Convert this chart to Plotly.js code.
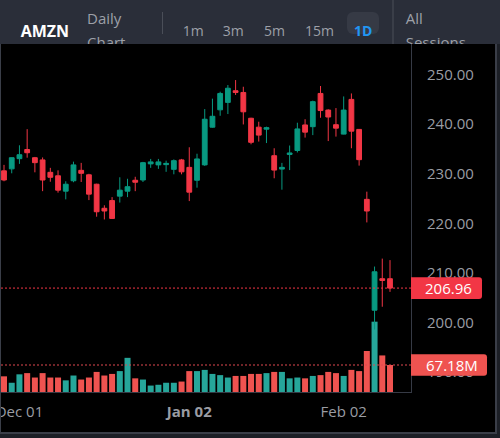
<!DOCTYPE html>
<html>
<head>
<meta charset="utf-8">
<script src="https://cdn.plot.ly/plotly-3.0.1.min.js"></script>
<style>
  html, body { margin:0; padding:0; width:500px; height:438px; overflow:hidden; background:#1c1f26; font-family:"Open Sans", sans-serif; }
  #bar { position:absolute; left:0; top:0; width:500px; height:44px; background:#2a2e39; overflow:hidden; }
  .t { position:absolute; white-space:nowrap; color:#9da0a8; }
  .iv { font-size:14px; line-height:14px; top:23.6px; }
  #frame { position:absolute; left:0; top:44px; width:497px; height:390px; box-sizing:border-box; background:#000;
           border-left:1px solid #3a3e48; border-right:2px solid #3a3e48; border-bottom:2px solid #3a3e48; }
  #chart { position:absolute; left:0; top:0; width:494px; height:388px; }
</style>
</head>
<body>
<div id="bar">
  <div class="t" style="left:20.7px;top:23.2px;font-size:16px;line-height:16px;font-weight:700;color:#fff;">AMZN</div>
  <div class="t" style="left:87px;top:7.1px;font-size:15px;line-height:23.5px;">Daily<br>Chart</div>
  <div style="position:absolute;left:162px;top:12px;width:1px;height:22px;background:#4a4e58;"></div>
  <div class="t iv" style="left:182.7px;">1m</div>
  <div class="t iv" style="left:222.7px;">3m</div>
  <div class="t iv" style="left:264px;">5m</div>
  <div class="t iv" style="left:305px;">15m</div>
  <div style="position:absolute;left:347px;top:11.7px;width:32px;height:22.6px;border-radius:6px;background:#363a45;"></div>
  <div class="t iv" style="left:354px;font-weight:700;color:#2196f3;">1D</div>
  <div style="position:absolute;left:392px;top:0;width:2px;height:44px;background:#3a3e48;"></div>
  <div class="t" style="left:405.7px;top:7.1px;font-size:15px;line-height:23.5px;">All<br>Sessions</div>
</div>
<div id="frame"><div id="chart"></div></div>
<script>
// Daily AMZN session data
const dates = [
  '2025-11-26','2025-11-28',
  '2025-12-01','2025-12-02','2025-12-03','2025-12-04','2025-12-05',
  '2025-12-08','2025-12-09','2025-12-10','2025-12-11','2025-12-12',
  '2025-12-15','2025-12-16','2025-12-17','2025-12-18','2025-12-19',
  '2025-12-22','2025-12-23','2025-12-24','2025-12-26',
  '2025-12-29','2025-12-30','2025-12-31','2026-01-02',
  '2026-01-05','2026-01-06','2026-01-07','2026-01-08','2026-01-09',
  '2026-01-12','2026-01-13','2026-01-14','2026-01-15','2026-01-16',
  '2026-01-20','2026-01-21','2026-01-22','2026-01-23',
  '2026-01-26','2026-01-27','2026-01-28','2026-01-29','2026-01-30',
  '2026-02-02','2026-02-03','2026-02-04','2026-02-05','2026-02-06',
  '2026-02-09','2026-02-10'
];
const open  = [230.6,231.0,233.05,234.9,233.25,232.8,230.3,229.6,226.5,228.6,
               230.7,229.8,227.9,223.05,224.6,225.5,226.5,228.7,228.75,232.0,
               231.8,231.85,230.9,232.8,231.3,228.7,231.8,239.4,242.9,244.4,
               246.75,246.4,241.2,239.4,239.0,233.65,230.95,233.9,234.7,239.85,
               239.5,246.2,242.85,239.9,238.0,245.0,238.95,224.85,202.5,208.85,208.85];
const high  = [231.8,233.3,235.75,239.0,233.4,233.3,231.2,230.7,228.5,232.45,
               232.2,230.0,228.0,223.65,225.3,229.3,229.0,229.4,232.4,233.0,
               233.0,232.65,232.9,233.0,235.35,234.05,243.05,245.15,246.55,247.9,
               248.9,247.55,241.3,240.5,239.5,235.15,232.2,235.7,240.3,241.0,
               244.75,247.7,243.0,243.25,245.6,246.2,239.0,226.4,211.3,212.9,212.6];
const low   = [228.5,230.1,232.0,233.25,230.3,226.5,228.4,226.2,224.85,228.3,
               228.35,224.7,221.35,220.8,220.9,224.2,225.3,226.5,228.35,231.2,
               231.0,230.4,229.9,229.9,224.5,227.2,231.6,239.3,241.7,242.05,
               245.9,239.95,235.95,236.5,236.2,229.1,226.8,230.75,234.3,237.3,
               237.8,241.3,236.6,237.5,237.95,235.15,231.65,220.2,198.6,203.2,206.2];
const close = [228.75,233.25,233.85,234.25,232.25,228.75,229.3,226.7,227.9,231.8,
               230.1,225.9,222.35,222.5,221.0,226.7,227.4,228.3,232.25,232.4,
               232.4,232.1,232.65,230.4,226.3,233.0,241.0,241.6,246.2,247.25,
               246.4,242.5,236.35,237.8,239.3,230.75,231.3,234.2,239.05,238.4,
               244.55,242.75,241.45,239.2,242.85,238.6,232.85,222.5,210.25,208.5,206.96];
// volume in millions of shares
const volume = [39,23,44,47,36,47,36,36,29,41,
                31,36,50,41,45,52,85,34,31,16,
                18,23,23,26,52,52,55,45,42,36,
                40,40,45,45,47,50,50,34,36,34,
                40,42,50,47,40,55,52,102,175,91,67.18];
const tickDates  = ['2025-12-01','2026-01-02','2026-02-02'];
const tickLabels = ['Dec 01','<b>Jan 02</b>','Feb 02'];

const lastPrice  = close[close.length - 1];
const lastVolume = volume[volume.length - 1];

const UP = '#089981', DOWN = '#f23645';
const VOL_UP = '#26a69a', VOL_DOWN = '#ef5350';
const volColors = close.map((c, i) => c >= open[i] ? VOL_UP : VOL_DOWN);

const volTrace = {
  type: 'bar', x: dates, y: volume, yaxis: 'y',
  marker: { color: volColors, line: { width: 0 } },
  hoverinfo: 'skip'
};
const candleTrace = {
  type: 'candlestick', x: dates, open: open, high: high, low: low, close: close,
  yaxis: 'y2', whiskerwidth: 0,
  increasing: { line: { color: UP, width: 1 }, fillcolor: UP },
  decreasing: { line: { color: DOWN, width: 1 }, fillcolor: DOWN },
  hoverinfo: 'skip'
};

// price tag shape, pixel sized, anchored at the right edge of the plot
function tag(w) {
  return 'M0,-10.8L' + (w - 3) + ',-10.8Q' + w + ',-10.8 ' + w + ',-7.8L' + w + ',7.8Q' + w + ',10.8 ' + (w - 3) + ',10.8L0,10.8Z';
}

const layout = {
  width: 494, height: 388,
  margin: { l: 0, r: 84, t: 0, b: 40 },
  paper_bgcolor: '#000', plot_bgcolor: '#000',
  showlegend: false, hovermode: false,
  boxgap: 0.38, boxgroupgap: 0, bargap: 0.22,
  font: { family: '"Open Sans", sans-serif', size: 15, color: '#9a9ca3' },
  xaxis: {
    type: 'category', range: [-0.389, 52.72],
    rangeslider: { visible: false },
    showgrid: false, zeroline: false,
    showline: true, linecolor: '#363a45', linewidth: 1,
    tickmode: 'array', tickvals: tickDates, ticktext: tickLabels,
    ticks: '', ticklabelstandoff: 6, ticklabeloverflow: 'allow',
    tickfont: { size: 15, color: '#9a9ca3' }
  },
  yaxis: { range: [0, 866], visible: false, showgrid: false, zeroline: false },
  yaxis2: {
    overlaying: 'y', side: 'right', range: [186.01, 256.17],
    showgrid: false, zeroline: false,
    showline: true, linecolor: '#363a45', linewidth: 1,
    tickmode: 'linear', tick0: 0, dtick: 10, tickformat: '.2f',
    ticks: '', ticklabelstandoff: 12,
    tickfont: { size: 15, color: '#9a9ca3' }
  },
  shapes: [
    { type: 'line', xref: 'paper', x0: 0, x1: 1, yref: 'y2', y0: lastPrice, y1: lastPrice,
      line: { color: DOWN, width: 1, dash: '2px,2px' }, layer: 'above' },
    { type: 'line', xref: 'paper', x0: 0, x1: 1, yref: 'y', y0: lastVolume, y1: lastVolume,
      line: { color: '#e04850', width: 1, dash: '2px,2px' }, layer: 'above' },
    { type: 'path', xref: 'paper', xsizemode: 'pixel', xanchor: 1,
      yref: 'y2', ysizemode: 'pixel', yanchor: lastPrice,
      path: tag(71), fillcolor: DOWN, line: { width: 0 }, layer: 'above' },
    { type: 'path', xref: 'paper', xsizemode: 'pixel', xanchor: 1,
      yref: 'y', ysizemode: 'pixel', yanchor: lastVolume,
      path: tag(76), fillcolor: VOL_DOWN, line: { width: 0 }, layer: 'above' }
  ],
  annotations: [
    { xref: 'paper', x: 1, xanchor: 'left', xshift: 14, yref: 'y2', y: lastPrice, yanchor: 'middle',
      text: lastPrice.toFixed(2), showarrow: false, borderpad: 0, borderwidth: 0,
      font: { color: '#ffffff', size: 15 } },
    { xref: 'paper', x: 1, xanchor: 'left', xshift: 14.7, yref: 'y', y: lastVolume, yanchor: 'middle',
      text: lastVolume.toFixed(2) + 'M', showarrow: false, borderpad: 0, borderwidth: 0,
      font: { color: '#ffffff', size: 15 } }
  ]
};

Plotly.newPlot('chart', [volTrace, candleTrace], layout, { displayModeBar: false, staticPlot: true });
</script>
</body>
</html>
